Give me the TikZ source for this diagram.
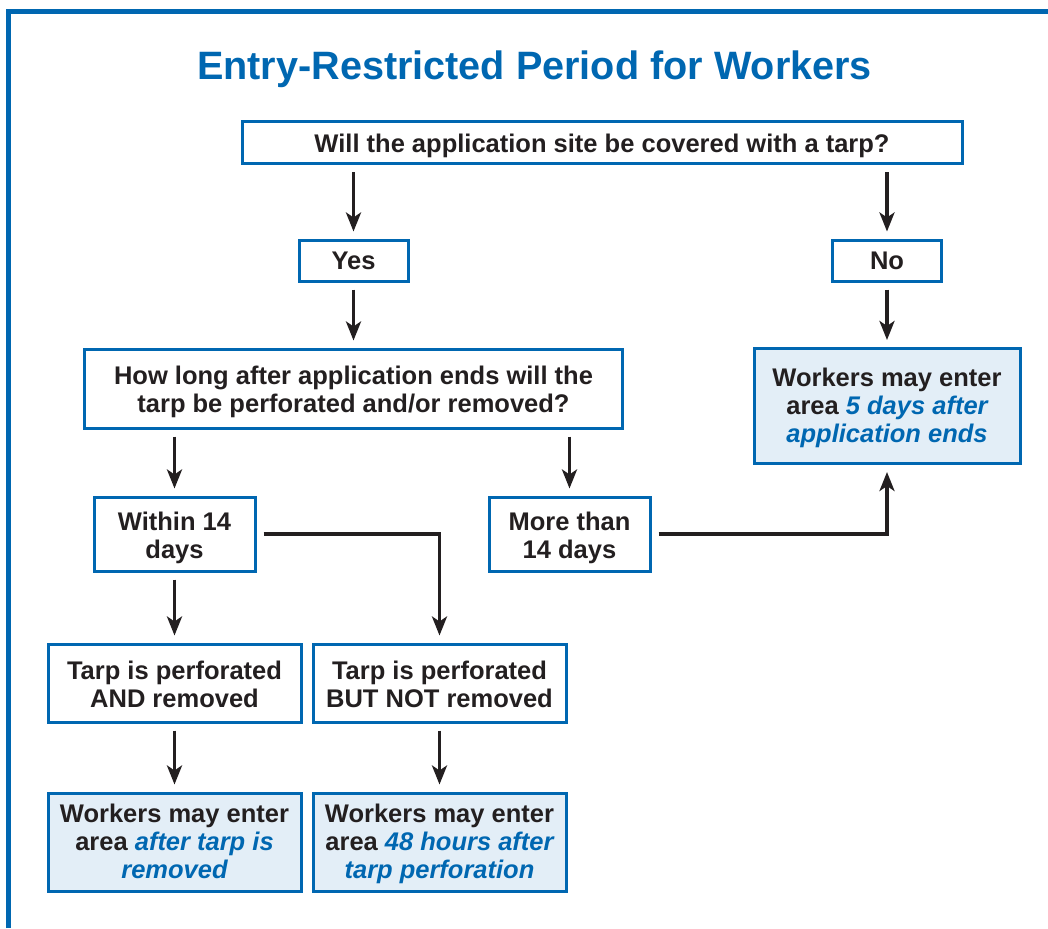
\documentclass[tikz,border=0pt]{standalone}
\usepackage{fontspec}
\setmainfont{Liberation Sans}
\usetikzlibrary{arrows.meta, positioning}
\definecolor{epablue}{HTML}{0067B1}
\definecolor{ink}{HTML}{231F20}
\definecolor{paleblue}{HTML}{E3EEF7}
\newcommand{\hl}[1]{{\color{epablue}\itshape #1}}
\newcommand{\lift}[1][26pt]{\rule{0pt}{#1}}

\begin{document}
\begin{tikzpicture}[x=1pt, y=1pt, on grid,
  box/.style={draw=epablue, line width=3pt, fill=white, text=ink, align=center,
    inner sep=0pt, font=\bfseries\fontsize{25.5}{28}\selectfont,
    execute at begin node={\rule{0pt}{24pt}},
    execute at end node={\rule[-5.5pt]{0pt}{5.5pt}}},
  answer/.style={box, fill=paleblue},
  flow/.style={-{Stealth[length=19pt,width=15pt,inset=5pt]}, line width=3.8pt,
    draw=ink, shorten >=7pt, shorten <=7pt}]
  \useasboundingbox (0,0) rectangle (1048,-928);
  \draw[epablue, line width=5pt] (8.5,-928) -- (8.5,-11.5) -- (1048,-11.5);
  \node[anchor=base, text=epablue, font=\bfseries\fontsize{39.6}{44}\selectfont] (title) at (534.5,-80) {Entry-Restricted Period for Workers};

  \node[box, minimum width=720pt, minimum height=42pt] (tarp) at (602,-143) {Will the application site be covered with a tarp?};
  \node[box, minimum width=109pt, minimum height=41pt] (yes) [below left=117.5pt and 248.5pt of tarp] {Yes};
  \node[box, minimum width=109pt, minimum height=41pt] (no) [right=533.5pt of yes] {No};
  \node[box, minimum width=538pt, minimum height=79pt] (howlong) [below=128pt of yes] {\lift How long after application ends will the\\tarp be perforated and/or removed?};
  \node[answer, minimum width=266pt, minimum height=115pt] (fivedays) [below=145.5pt of no] {\lift[23pt]Workers may enter\\area \hl{5 days after}\\\hl{application ends}};
  \node[box, minimum width=161pt, minimum height=74pt] (within) [below left=145.5pt and 179pt of howlong] {\lift Within 14\\days};
  \node[box, minimum width=161pt, minimum height=74pt] (more) [right=395pt of within] {\lift More than\\14 days};
  \node[box, minimum width=253pt, minimum height=78pt] (andrem) [below=149pt of within] {\lift Tarp is perforated\\AND removed};
  \node[box, minimum width=253pt, minimum height=78pt] (butnot) [right=265pt of andrem] {\lift Tarp is perforated\\BUT NOT removed};
  \node[answer, minimum width=253pt, minimum height=98pt] (afterrem) [below=159pt of andrem] {\lift[23pt]Workers may enter\\area \hl{after tarp is}\\\hl{removed}};
  \node[answer, minimum width=253pt, minimum height=98pt] (hours) [below=159pt of butnot] {\lift[23pt]Workers may enter\\area \hl{48 hours after}\\\hl{tarp perforation}};

  \path
(tarp.south -| yes) edge[flow] (yes)
(tarp.south -| no) edge[flow] (no)
(yes) edge[flow] (howlong)
(no) edge[flow] (fivedays)
(howlong.south -| within) edge[flow] (within)
(howlong.south -| more) edge[flow] (more)
(within) edge[flow] (andrem)
(andrem) edge[flow] (afterrem)
(butnot) edge[flow] (hours)
  ;
  \draw[flow] (within) -| (butnot);
  \draw[flow] (more) -| (fivedays);
\end{tikzpicture}
\end{document}
